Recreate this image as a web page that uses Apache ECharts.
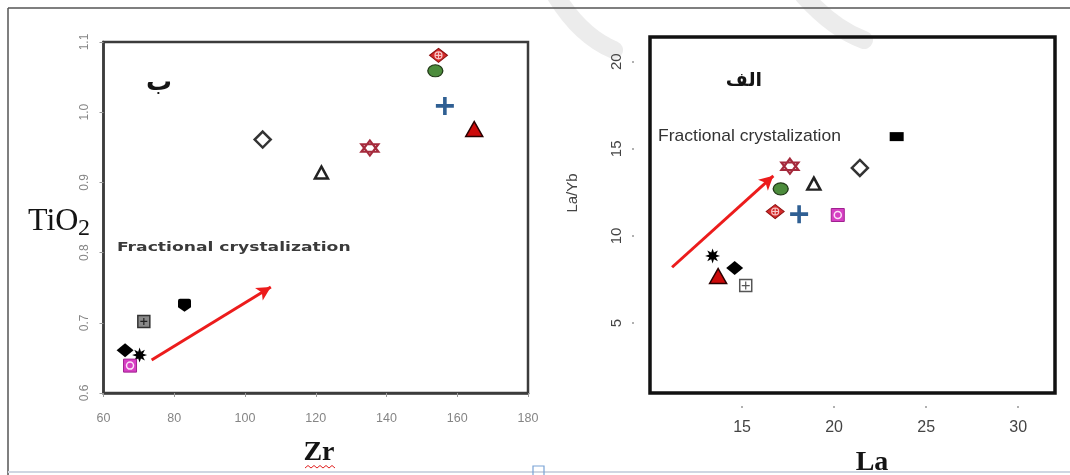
<!DOCTYPE html>
<html>
<head>
<meta charset="utf-8">
<script src="https://cdn.jsdelivr.net/npm/echarts@6/dist/echarts.min.js"></script>
<style>
  html, body { margin: 0; padding: 0; background: #ffffff; }
  #chart { width: 1070px; height: 475px; }
</style>
</head>
<body>
<div id="chart"></div>
<script>
// Zr (ppm) against TiO2 (wt%), one value per sample
const zr   = [154.7, 153.8, 156.5, 164.8, 105.0, 135.3, 121.6, 82.9, 71.4, 66.1, 70.2, 67.5];
const tio2 = [1.081, 1.059, 1.009, 0.976, 0.961, 0.949, 0.914, 0.725, 0.702, 0.661, 0.654, 0.639];
// La (ppm) against La/Yb, same sample order
const la   = [16.8, 17.1, 18.1, 13.7, 21.4, 17.6, 18.9, 23.4, 15.2, 14.6, 13.4, 20.2];
const laYb = [11.4, 12.7, 11.25, 7.7, 13.9, 14.0, 13.0, 15.7, 7.15, 8.15, 8.85, 11.2];

// tick values
const zrTicks   = [60, 80, 100, 120, 140, 160, 180];
const tio2Ticks = [0.6, 0.7, 0.8, 0.9, 1.0, 1.1];
const laTicks   = [15, 20, 25, 30];
const laYbTicks = [5, 10, 15, 20];

// fractional crystallization trend arrows: [start, end]
const trendZr   = [[73.6, 0.647], [107.3, 0.751]];
const trendLa   = [[11.2, 8.2], [16.7, 13.45]];

// ---- marker shapes ----
const PLUS = 'path://M4,0H6V4H10V6H6V10H4V6H0V4H4Z';
const RING_CROSS = 'path://M5,0A5,5,0,1,1,5,10A5,5,0,1,1,5,0ZM5,0V10M0,5H10';
const GRID_CROSS = 'path://M5,0V10M0,5H10';
const HEXAGRAM = 'path://M5,0L10,8.66L0,8.66ZM0,2.89L10,2.89L5,11.55Z';
const SHIELD = 'path://M1.5,0H8.5Q10,0,10,1.5V6.5L5,10L0,6.5V1.5Q0,0,1.5,0Z';
function starPath(n, ro, ri) {
  let d = '';
  for (let k = 0; k < 2 * n; k++) {
    const a = -Math.PI / 2 + k * Math.PI / n;
    const r = k % 2 ? ri : ro;
    d += (k ? 'L' : 'M') + (5 + r * Math.cos(a)).toFixed(2) + ',' + (5 + r * Math.sin(a)).toFixed(2);
  }
  return 'path://' + d + 'Z';
}
const STAR8 = starPath(8, 5, 2.4);

// layered symbol styles per sample (same order as the data arrays)
const markerStyles = [
  [{ symbol: 'diamond', size: [18, 14], color: '#d42a2a', border: '#8a1010', bw: 1 },
   { symbol: RING_CROSS, size: 7, color: 'transparent', border: '#f7c6c6', bw: 1.2 }],
  [{ symbol: 'circle', size: [15, 12], color: '#4c8c3c', border: '#223a18', bw: 1.2 }],
  [{ symbol: PLUS, size: 18, color: '#2f5f93' }],
  [{ symbol: 'triangle', size: [17, 15], color: '#cc0a0a', border: '#2a0000', bw: 1.5 }],
  [{ symbol: 'diamond', size: 16, color: '#ffffff', border: '#333333', bw: 2.5 }],
  [{ symbol: HEXAGRAM, size: [17, 15], color: '#ffffff', border: '#a52a3c', bw: 2.2 }],
  [{ symbol: 'triangle', size: [13, 12], color: '#ffffff', border: '#222222', bw: 2.5 }],
  [{ symbol: SHIELD, size: 13, color: '#000000' }],
  [{ symbol: 'rect', size: 12, color: '#ffffff', border: '#555555', bw: 1.5 },
   { symbol: GRID_CROSS, size: 8, color: 'transparent', border: '#555555', bw: 1.2 }],
  [{ symbol: 'diamond', size: [17, 14], color: '#000000' }],
  [{ symbol: STAR8, size: 15, color: '#000000' }],
  [{ symbol: 'rect', size: 13, color: '#d63fc3', border: '#a02090', bw: 1 },
   { symbol: 'circle', size: 7, color: 'transparent', border: '#fbe0f6', bw: 1.5 }]
];
// panel specific variants
const leftVariant = {
  8: [{ symbol: 'rect', size: 12, color: '#8a8a8a', border: '#333333', bw: 1.5 },
      { symbol: GRID_CROSS, size: 7, color: 'transparent', border: '#222222', bw: 1.2 }]
};
const rightVariant = {
  7: [{ symbol: 'rect', size: [14, 9], color: '#000000' }]
};

function sampleSeries(panel, xs, ys, variant) {
  const out = [];
  xs.forEach((x, i) => {
    const layers = variant[i] || markerStyles[i];
    layers.forEach((l, j) => {
      out.push({
        type: 'scatter',
        xAxisIndex: panel, yAxisIndex: panel,
        data: [[x, ys[i]]],
        symbol: l.symbol,
        symbolSize: l.size,
        itemStyle: { color: l.color, borderColor: l.border || l.color, borderWidth: l.bw || 0, opacity: 1 },
        z: 3 + j,
        silent: true
      });
    });
  });
  return out;
}

function arrowSeries(panel, seg) {
  return {
    type: 'scatter', xAxisIndex: panel, yAxisIndex: panel, data: [], silent: true, z: 2,
    markLine: {
      silent: true, animation: false,
      symbol: ['none', 'arrow'], symbolSize: [11, 14],
      label: { show: false },
      lineStyle: { color: '#ec1c1c', width: 3, type: 'solid' },
      data: [[{ coord: seg[0] }, { coord: seg[1] }]]
    }
  };
}

const tickLabelFont = '"Liberation Sans", Arial, sans-serif';

const chart = echarts.init(document.getElementById('chart'), null, { renderer: 'canvas' });
chart.setOption({
  animation: false,
  backgroundColor: '#ffffff',
  grid: [
    { left: 103.5, top: 42, width: 424.5, height: 351, show: true, borderColor: '#3c3c3c', borderWidth: 2.5, containLabel: false },
    { left: 650, top: 37, width: 405, height: 356, show: true, borderColor: '#111111', borderWidth: 3.5, containLabel: false }
  ],
  xAxis: [
    {
      gridIndex: 0, type: 'value', min: 60, max: 180,
      axisLine: { show: true, lineStyle: { color: '#3c3c3c', width: 2.5 } },
      axisTick: { show: true, length: 4, customValues: zrTicks, lineStyle: { color: '#999999', width: 1 } },
      axisLabel: { customValues: zrTicks, color: '#858585', fontSize: 12.5, margin: 19, fontFamily: tickLabelFont },
      splitLine: { show: false }
    },
    {
      gridIndex: 1, type: 'value', min: 10, max: 32, offset: 13,
      axisLine: { show: false },
      axisTick: { show: true, length: 2, customValues: laTicks, lineStyle: { color: '#b0b0b0', width: 2 } },
      axisLabel: { customValues: laTicks, color: '#444444', fontSize: 16, margin: 14, fontFamily: tickLabelFont },
      splitLine: { show: false }
    }
  ],
  yAxis: [
    {
      gridIndex: 0, type: 'value', min: 0.6, max: 1.1,
      axisLine: { show: true, lineStyle: { color: '#3c3c3c', width: 2.5 } },
      axisTick: { show: true, length: 4, customValues: tio2Ticks, lineStyle: { color: '#999999', width: 1 } },
      axisLabel: { customValues: tio2Ticks, rotate: 90, color: '#858585', fontSize: 12, margin: 13, fontFamily: tickLabelFont,
                   formatter: v => v.toFixed(1) },
      splitLine: { show: false }
    },
    {
      gridIndex: 1, type: 'value', min: 0.98, max: 21.42, offset: 16,
      axisLine: { show: false },
      axisTick: { show: true, length: 2, customValues: laYbTicks, lineStyle: { color: '#b0b0b0', width: 2 } },
      axisLabel: { customValues: laYbTicks, rotate: 90, color: '#444444', fontSize: 15, margin: 10, fontFamily: tickLabelFont },
      splitLine: { show: false }
    }
  ],
  series: [
    arrowSeries(0, trendZr),
    arrowSeries(1, trendLa),
    ...sampleSeries(0, zr, tio2, leftVariant),
    ...sampleSeries(1, la, laYb, rightVariant)
  ],
  graphic: [
    // faint background mark near the top edge
    { type: 'bezierCurve', z: -10, shape: { x1: 556, y1: -4, cpx1: 572, cpy1: 22, cpx2: 590, cpy2: 40, x2: 614, y2: 50 },
      style: { stroke: '#ececec', lineWidth: 18, fill: 'none', lineCap: 'round' } },
    { type: 'bezierCurve', z: -10, shape: { x1: 804, y1: -4, cpx1: 822, cpy1: 16, cpx2: 842, cpy2: 32, x2: 864, y2: 40 },
      style: { stroke: '#ececec', lineWidth: 18, fill: 'none', lineCap: 'round' } },

    // page frame
    { type: 'line', shape: { x1: 8, y1: 8, x2: 1070, y2: 8 }, style: { stroke: '#555555', lineWidth: 1.5 } },
    { type: 'line', shape: { x1: 8, y1: 8, x2: 8, y2: 475 }, style: { stroke: '#555555', lineWidth: 1.5 } },
    { type: 'line', shape: { x1: 8, y1: 472, x2: 1070, y2: 472 }, style: { stroke: '#cfd6e2', lineWidth: 2 } },
    { type: 'rect', shape: { x: 533, y: 466, width: 11, height: 11 }, style: { fill: 'none', stroke: '#7aa3d6', lineWidth: 1.2 } },

    // left panel texts
    { type: 'text', x: 159, y: 83, style: { text: 'ب', font: 'bold 26px "DejaVu Sans"', fill: '#151515', align: 'center', verticalAlign: 'middle' } },
    { type: 'text', x: 117, y: 248, scaleX: 1.32, style: { text: 'Fractional crystalization', font: 'bold 13px "DejaVu Sans"', fill: '#3a3a3a', align: 'left', verticalAlign: 'middle' } },
    { type: 'text', x: 28, y: 222, style: { text: 'TiO', font: '32px "Liberation Serif"', fill: '#141414', align: 'left', verticalAlign: 'middle' } },
    { type: 'text', x: 78, y: 229, style: { text: '2', font: '24px "Liberation Serif"', fill: '#141414', align: 'left', verticalAlign: 'middle' } },
    { type: 'text', x: 319, y: 453, style: { text: 'Zr', font: 'bold 28px "Liberation Serif"', fill: '#141414', align: 'center', verticalAlign: 'middle' } },
    { type: 'polyline', shape: { points: [[305, 468], [308, 465.5], [311, 468], [314, 465.5], [317, 468], [320, 465.5], [323, 468], [326, 465.5], [329, 468], [332, 465.5], [335, 468]] },
      style: { stroke: '#e02020', lineWidth: 1, fill: 'none' } },

    // right panel texts
    { type: 'text', x: 744, y: 81, style: { text: 'الف', font: 'bold 19px "DejaVu Sans"', fill: '#151515', align: 'center', verticalAlign: 'middle' } },
    { type: 'text', x: 658, y: 136, scaleX: 1.03, style: { text: 'Fractional crystalization', font: '17px "Liberation Sans"', fill: '#333333', align: 'left', verticalAlign: 'middle' } },
    { type: 'text', x: 573, y: 193, rotation: Math.PI / 2, style: { text: 'La/Yb', font: '15px "Liberation Sans"', fill: '#444444', align: 'center', verticalAlign: 'middle' } },
    { type: 'text', x: 872, y: 463, style: { text: 'La', font: 'bold 28px "Liberation Serif"', fill: '#141414', align: 'center', verticalAlign: 'middle' } }
  ]
});
</script>
</body>
</html>
